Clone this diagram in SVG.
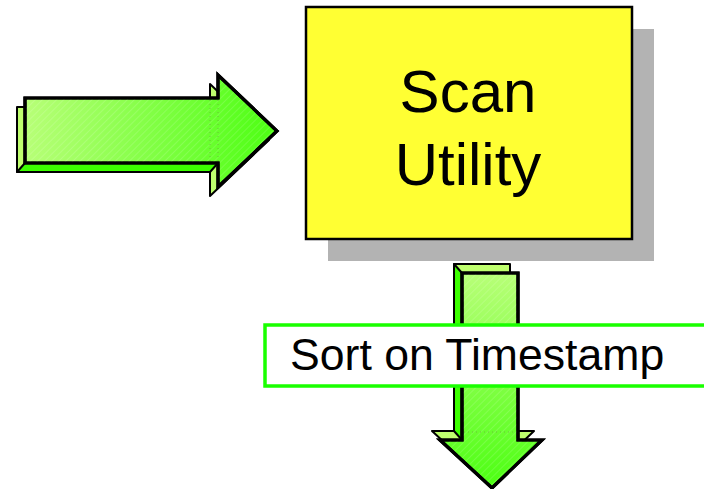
<svg xmlns="http://www.w3.org/2000/svg" width="704" height="489" viewBox="0 0 704 489">
  <defs>
    <linearGradient id="gradRight" x1="0" y1="0" x2="1" y2="0">
      <stop offset="0" stop-color="#b8ff78"/>
      <stop offset="1" stop-color="#4cff12"/>
    </linearGradient>
    <linearGradient id="gradDown" x1="0" y1="0" x2="0" y2="1">
      <stop offset="0" stop-color="#b8ff78"/>
      <stop offset="1" stop-color="#4cff12"/>
    </linearGradient>
    <pattern id="hatch" width="5" height="5" patternUnits="userSpaceOnUse" patternTransform="rotate(45)">
      <line x1="0" y1="0" x2="0" y2="5" stroke="#ffffff" stroke-width="0.8" stroke-opacity="0.35"/>
    </pattern>
  </defs>
  <style>
    .face-light { fill: #bfff6e; stroke: #000; stroke-width: 2; stroke-linejoin: round; }
    .face-bright { fill: #3cff00; stroke: #000; stroke-width: 2; stroke-linejoin: round; }
    .front { stroke: #000; stroke-width: 3.2; stroke-linejoin: miter; }
    .hidden { fill: none; stroke: #6a9a40; stroke-width: 1; stroke-dasharray: 1 3; opacity: 0.6; }
    .label { font-family: "Liberation Sans", Arial, sans-serif; fill: #000; }
  </style>

  <!-- input arrow pointing into the scan box -->
  <g id="arrow-in">
    <polygon class="face-light" points="17,107 210,107 210,84 269,140 210,196 210,172 17,172"/>
    <polygon class="face-bright" points="25,163 17,172 210,172 218,163"/>
    <polygon class="front" fill="url(#gradRight)" points="25,98 218,98 218,75 277,131 218,187 218,163 25,163"/>
    <polygon fill="url(#hatch)" points="25,98 218,98 218,75 277,131 218,187 218,163 25,163"/>
    <line class="hidden" x1="210" y1="100" x2="210" y2="161"/>
    <line class="hidden" x1="218" y1="100" x2="218" y2="161"/>
    <polygon class="front" fill="none" points="25,98 218,98 218,75 277,131 218,187 218,163 25,163"/>
  </g>

  <!-- scan utility box with drop shadow -->
  <g id="scan-utility">
    <rect x="328" y="29" width="326" height="232" fill="#b3b3b3"/>
    <rect x="306" y="7" width="326" height="232" fill="#ffff33" stroke="#000" stroke-width="2.5"/>
    <text class="label" x="468" y="112" font-size="60" text-anchor="middle">Scan</text>
    <text class="label" x="468" y="185" font-size="60" text-anchor="middle">Utility</text>
  </g>

  <!-- output arrow pointing down -->
  <g id="arrow-out">
    <polygon class="face-light" points="454,264 510,264 510,431 534,431 484,479 432,431 454,431"/>
    <polygon class="face-bright" points="462,273 454,264 454,431 462,440"/>
    <polygon class="front" fill="url(#gradDown)" points="462,273 518,273 518,440 542,440 492,488 440,440 462,440"/>
    <polygon fill="url(#hatch)" points="462,273 518,273 518,440 542,440 492,488 440,440 462,440"/>
    <line class="hidden" x1="464" y1="432" x2="516" y2="432"/>
    <polygon class="front" fill="none" points="462,273 518,273 518,440 542,440 492,488 440,440 462,440"/>
  </g>

  <!-- sort step label -->
  <g id="sort-label">
    <rect x="265" y="325" width="445" height="61" fill="#ffffff" stroke="#1aff00" stroke-width="3.5"/>
    <text class="label" x="290" y="370" font-size="44.6">Sort on Timestamp</text>
  </g>
</svg>
